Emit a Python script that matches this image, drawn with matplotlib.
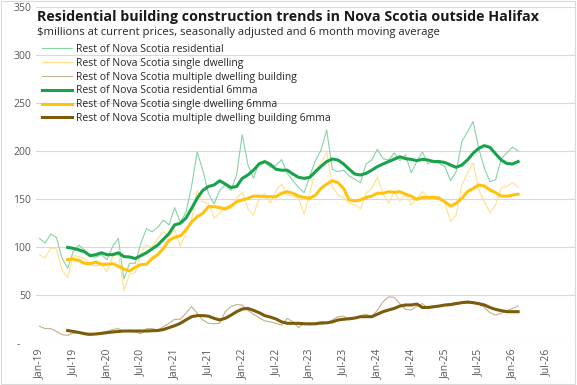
import matplotlib
matplotlib.use("Agg")
import matplotlib.pyplot as plt
from matplotlib.patches import Rectangle

# monthly, Jan-19 .. Feb-26
months = list(range(86))
ma_months = list(range(5, 86))

residential = [109, 104, 113.5, 110, 88.5, 78, 95.5, 102, 97, 90, 89.5, 92, 87, 100.7, 109, 66.7,
               83, 83, 104, 119, 116, 120.5, 128, 123, 141, 126, 136, 163, 199, 180, 156, 145,
               159, 165, 159, 175, 217, 186, 171.5, 188, 189, 183, 185, 191, 177, 169, 162, 156.6,
               174, 190, 201, 222, 181, 178.5, 180, 174, 170.5, 167, 186.5, 190.6, 201.7, 192, 190.6, 198,
               190, 196, 177.4, 189, 199, 186.5, 190, 187, 184, 169, 178.5, 209.7, 220, 230.6, 202.8, 182,
               168, 170, 192, 198, 204, 200]
single = [92, 88.5, 99, 98, 76, 68, 91, 90, 88, 81.6, 80, 81.6, 74.6, 90, 93.7, 54.5,
          72, 73, 93.7, 102, 100, 109, 116, 111, 118, 101, 114, 128, 159, 147, 145.5, 130,
          135, 142, 140, 150.7, 157.6, 140, 133, 150.7, 156, 145.5, 159, 165.6, 154, 153, 150.7, 134,
          156, 180, 187, 199, 163, 154, 151.7, 145.5, 143.7, 140, 156, 161, 172.6, 156, 145.5, 157.6,
          148, 156.6, 143.7, 150.7, 157.6, 151.7, 152.4, 152.4, 145.5, 126.4, 133.3, 164.6, 176.7, 187.8, 159.4, 147,
          135.8, 143.7, 162, 162.8, 167, 162]
multiple = [17.4, 15, 15, 12, 8.7, 8, 10.4, 10.4, 8.7, 8, 9.7, 11, 12, 14, 15, 12,
            12, 11.5, 9.7, 15, 15, 13.5, 17, 20.5, 24.7, 24.7, 31, 38, 31, 24, 20.5, 20,
            20.5, 32.6, 38, 40, 39.6, 34, 30, 26.4, 23, 22, 20.5, 18.7, 25.7, 22, 16, 20.5,
            18.7, 20.5, 19.4, 20.5, 24, 27.4, 28, 24, 25.7, 28.5, 30, 27.4, 34, 43, 48, 47.6,
            41, 35, 34.4, 38.5, 41, 36, 37.8, 38.5, 39.6, 41, 42.4, 42, 41, 43, 40.6, 37,
            31.6, 29, 31, 33.7, 36, 38.5]

residential_6mma = [99.6, 98.6, 97, 95, 91, 92, 94, 92, 92, 94, 90, 89.6, 88, 91, 94, 98,
                    102, 108, 114, 123, 124.7, 130, 140, 150.7, 159, 163, 164.6, 169, 165.6, 162, 163, 171.5,
                    175, 180, 186.5, 189, 186, 181, 180, 180, 176, 172.6, 171.5, 172.6, 178.5, 184, 189, 191.7,
                    190.6, 186.5, 181, 176, 175, 176.7, 180, 183.7, 186.5, 189, 191.5, 194, 192, 191.3, 190, 191.3,
                    190.6, 189, 189, 188, 185.4, 183, 185.4, 190.6, 197.6, 202.8, 205.6, 203.8, 197, 190.6, 187, 186.5,
                    189]
single_6mma = [86.8, 87.5, 86, 83, 82.6, 84.4, 82, 82, 82.6, 80, 77, 75, 79, 81.6, 82, 88,
               92, 98.6, 107, 110, 111.5, 117.7, 126, 131.6, 135, 142, 142, 141, 139.6, 142.7, 147, 149,
               150.7, 153, 153, 152.4, 152.4, 152.4, 156, 157.6, 156, 153, 151.7, 150.7, 154, 161, 165.6, 169,
               167, 161, 149, 148, 149, 151.7, 153, 156, 156, 157.6, 157, 157.6, 155, 153, 149.7, 151.7,
               151.7, 151.7, 150.7, 147, 142.7, 145.5, 150.7, 157.6, 161, 164.6, 163.5, 159.4, 156.6, 153, 153, 154,
               155]
multiple_6mma = [13, 12, 11, 9.7, 9, 9.4, 10, 10.8, 11.5, 12, 12.5, 12.5, 12.5, 12.5, 12.5, 12.8,
                 13, 14, 16, 18, 20.5, 24, 27.4, 28.5, 28.5, 28, 25.7, 24, 25.7, 29, 32.6, 35.4,
                 36, 34, 31.6, 28.5, 27, 25, 22, 20.5, 20.5, 20.5, 20, 20, 20, 21, 21, 22,
                 24, 24.7, 25.3, 26, 27.4, 27.4, 27.4, 30, 32.6, 34.4, 36, 38.5, 39.6, 39.6, 40.6, 37,
                 37, 37.8, 38.5, 39.6, 40, 41, 42, 42.7, 42, 41, 39.6, 37, 35, 33.7, 32.6, 32.6,
                 32.6]

tick_pos = list(range(0, 91, 6))
tick_labels = ["Jan-19", "Jul-19", "Jan-20", "Jul-20", "Jan-21", "Jul-21", "Jan-22", "Jul-22",
               "Jan-23", "Jul-23", "Jan-24", "Jul-24", "Jan-25", "Jul-25", "Jan-26", "Jul-26"]
y_ticks = [0, 50, 100, 150, 200, 250, 300, 350]
y_labels = ["-    ", "50", "100", "150", "200", "250", "300", "350"]

plt.rcParams['font.family'] = ['Open Sans', 'DejaVu Sans']

fig = plt.figure(figsize=(5.77, 3.85), dpi=100)
ax = fig.add_axes([36/577, 1 - 343/385, 539/577, 336/385])

ax.plot(months, residential, color='#86d3a6', lw=0.8, label='Rest of Nova Scotia residential')
ax.plot(months, single, color='#ffe08c', lw=0.8, label='Rest of Nova Scotia single dwelling')
ax.plot(months, multiple, color='#c4b08a', lw=0.8, label='Rest of Nova Scotia multiple dwelling building')
ax.plot(ma_months, residential_6mma, color='#18a24c', lw=2.2, label='Rest of Nova Scotia residential 6mma')
ax.plot(ma_months, single_6mma, color='#ffc20e', lw=2.2, label='Rest of Nova Scotia single dwelling 6mma')
ax.plot(ma_months, multiple_6mma, color='#7a5c0a', lw=2.2,
        label='Rest of Nova Scotia multiple dwelling building 6mma')

ax.set_xlim(-0.62, 95.1)
ax.set_ylim(0, 350)
ax.set_yticks(y_ticks)
ax.set_yticklabels(y_labels)
ax.set_xticks(tick_pos)
ax.set_xticklabels(tick_labels, rotation=90)
ax.tick_params(length=0, labelsize=7.5, labelcolor='#595959')
ax.tick_params(axis='x', pad=4)
ax.grid(axis='y', color='#d9d9d9', lw=0.8)
ax.set_axisbelow(True)
for s in ax.spines.values():
    s.set_visible(False)

fig.text(37/577, 1 - 17/385, 'Residential building construction trends in Nova Scotia outside Halifax',
         fontsize=10.3, fontweight='bold', color='#1a1a1a', va='center')
fig.text(37/577, 1 - 33/385, '$millions at current prices, seasonally adjusted and 6 month moving average',
         fontsize=8.1, color='#262626', va='center')

fig.legend(loc='upper left', bbox_to_anchor=(42/577, 1 - 44/385), frameon=False, fontsize=7.5,
           handlelength=2.9, handletextpad=0.38, labelspacing=0.27, borderpad=0, borderaxespad=0,
           labelcolor='#262626')

fig.patches.append(Rectangle((0.002, 0.003), 0.995, 0.994, transform=fig.transFigure,
                             fill=False, edgecolor='#d9d9d9', lw=0.8))

fig.savefig('out.png', dpi=100)
